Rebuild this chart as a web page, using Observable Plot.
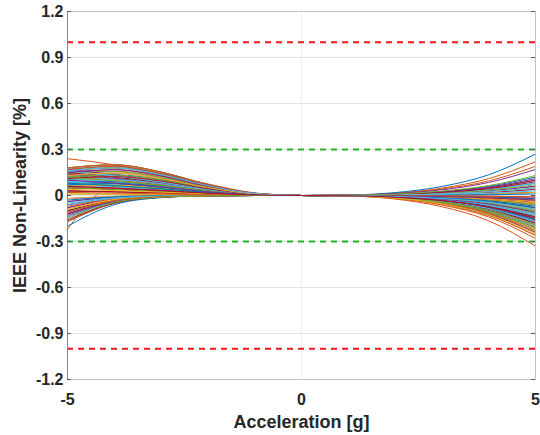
<!DOCTYPE html>
<html><head><meta charset="utf-8">
<script src="https://cdn.jsdelivr.net/npm/d3@7"></script>
<script src="https://cdn.jsdelivr.net/npm/@observablehq/plot@0.6"></script>
<style>
body{margin:0;background:#fff}
#chart svg{display:block}
#chart [aria-label="x-axis label"] text, #chart [aria-label="y-axis label"] text{font-size:18px}
</style></head><body><div id="chart"></div>
<script>
// Acceleration sample points [g]
const accel = [-5,-4,-3,-2,-1,0,1,2,3,4,5];
const yTicks = [-1.2,-0.9,-0.6,-0.3,0,0.3,0.6,0.9,1.2];
const xTicks = [-5,0,5];
const redLimits = [-1, 1];
const greenLimits = [-0.3, 0.3];
const palette = ["#0072BD","#D95319","#EDB120","#7E2F8E","#77AC30","#4DBEEE","#A2142F"];
// IEEE non-linearity [%] of each device, read at the sample points
const curves = [
[0.13,0.104,0.072,0.033,0.007,0,-0.001,-0.008,-0.026,-0.06,-0.12],
[0.16,0.18,0.136,0.064,0.013,0,-0.002,-0.014,-0.044,-0.1,-0.2],
[-0.06,-0.018,-0.004,-0.001,0,0,0,0.001,0.004,0.01,0.02],
[0.18,0.2,0.153,0.072,0.014,0,-0.002,-0.011,-0.035,-0.08,-0.16],
[0.07,0.056,0.039,0.018,0.004,0,-0.001,-0.004,-0.013,-0.03,-0.06],
[-0.1,-0.03,-0.007,-0.001,0,0,0,0.003,0.009,0.02,0.04],
[0.11,0.088,0.061,0.028,0.006,0,-0.001,-0.01,-0.031,-0.07,-0.14],
[0.12,0.134,0.102,0.048,0.01,0,-0.001,-0.007,-0.022,-0.05,-0.1],
[0.03,0.024,0.017,0.008,0.002,0,0,-0.001,-0.004,-0.01,-0.02],
[0.14,0.157,0.119,0.056,0.011,0,-0.002,-0.017,-0.053,-0.12,-0.24],
[-0.04,-0.012,-0.003,0,0,0,0.001,0.004,0.013,0.03,0.06],
[0.09,0.072,0.05,0.023,0.005,0,-0.001,-0.006,-0.018,-0.04,-0.08],
[0.1,0.112,0.085,0.04,0.008,0,-0.002,-0.013,-0.04,-0.09,-0.18],
[0.05,0.04,0.028,0.013,0.003,0,0,-0.003,-0.009,-0.02,-0.04],
[-0.12,-0.036,-0.008,-0.001,0,0,0.001,0.006,0.018,0.04,0.08],
[0.16,0.18,0.136,0.064,0.013,0,-0.001,-0.008,-0.026,-0.06,-0.12],
[0.15,0.12,0.083,0.038,0.008,0,-0.002,-0.015,-0.048,-0.11,-0.22],
[-0.08,-0.024,-0.006,-0.001,0,0,0,-0.001,-0.002,-0.005,-0.01],
[0.01,0.008,0.006,0.003,0.001,0,-0.001,-0.007,-0.022,-0.05,-0.1],
[0.08,0.09,0.068,0.032,0.006,0,-0.001,-0.004,-0.013,-0.03,-0.06],
[0.13,0.104,0.072,0.033,0.007,0,-0.002,-0.011,-0.035,-0.08,-0.16],
[-0.14,-0.042,-0.01,-0.001,0,0,0.001,0.007,0.022,0.05,0.1],
[0.14,0.157,0.119,0.056,0.011,0,-0.002,-0.014,-0.044,-0.1,-0.2],
[0.07,0.056,0.039,0.018,0.004,0,-0.001,-0.008,-0.026,-0.06,-0.12],
[-0.02,-0.006,-0.001,0,0,0,0,-0.003,-0.009,-0.02,-0.04],
[0.18,0.2,0.153,0.072,0.014,0,-0.003,-0.018,-0.057,-0.13,-0.26],
[0.11,0.088,0.061,0.028,0.006,0,-0.001,-0.006,-0.018,-0.04,-0.08],
[0.05,0.04,0.028,0.013,0.003,0,0,-0.001,-0.004,-0.01,-0.02],
[-0.17,-0.051,-0.012,-0.002,0,0,0.001,0.008,0.026,0.06,0.12],
[-0.22,0.06,0.07,0.035,0.007,0,-0.003,-0.018,-0.057,-0.13,-0.26],
[0.09,0.072,0.05,0.023,0.005,0,-0.002,-0.013,-0.04,-0.09,-0.18],
[-0.06,-0.018,-0.004,-0.001,0,0,-0.001,-0.004,-0.013,-0.03,-0.06],
[0.06,0.067,0.051,0.024,0.005,0,-0.001,-0.007,-0.022,-0.05,-0.1],
[0.15,0.12,0.083,0.038,0.008,0,-0.002,-0.011,-0.035,-0.08,-0.16],
[0.03,0.024,0.017,0.008,0.002,0,0,0.001,0.004,0.01,0.02],
[-0.1,-0.03,-0.007,-0.001,0,0,0,-0.001,-0.004,-0.01,-0.02],
[0.18,0.2,0.153,0.072,0.014,0,-0.003,-0.02,-0.062,-0.14,-0.28],
[0.13,0.104,0.072,0.033,0.007,0,-0.002,-0.014,-0.044,-0.1,-0.2],
[-0.04,-0.012,-0.003,0,0,0,-0.001,-0.006,-0.018,-0.04,-0.08],
[0.16,0.18,0.136,0.064,0.013,0,-0.001,-0.01,-0.031,-0.07,-0.14],
[0.07,0.056,0.039,0.018,0.004,0,-0.001,-0.007,-0.022,-0.05,-0.1],
[-0.12,-0.036,-0.008,-0.001,0,0,0,0.003,0.009,0.02,0.04],
[0.08,0.09,0.068,0.032,0.006,0,-0.002,-0.011,-0.035,-0.08,-0.16],
[-0.14,-0.042,-0.01,-0.001,0,0,0.002,0.013,0.042,0.095,0.19],
[0.01,0.008,0.006,0.003,0.001,0,-0.001,-0.004,-0.013,-0.03,-0.06],
[-0.08,-0.024,-0.006,-0.001,0,0,0.001,0.004,0.013,0.03,0.06],
[0.14,0.157,0.119,0.056,0.011,0,-0.002,-0.015,-0.048,-0.11,-0.22],
[0.09,0.072,0.05,0.023,0.005,0,-0.001,-0.008,-0.026,-0.06,-0.12],
[-0.1,-0.03,-0.007,-0.001,0,0,0.001,0.007,0.022,0.05,0.1],
[0.12,0.134,0.102,0.048,0.01,0,-0.002,-0.013,-0.04,-0.09,-0.18],
[-0.17,-0.051,-0.012,-0.002,0,0,0.002,0.015,0.048,0.11,0.22],
[-0.02,-0.006,-0.001,0,0,0,0,0.001,0.004,0.01,0.02],
[0.17,0.136,0.094,0.043,0.009,0,-0.002,-0.017,-0.053,-0.12,-0.24],
[0.1,0.112,0.085,0.04,0.008,0,-0.001,-0.004,-0.013,-0.03,-0.06],
[-0.14,-0.042,-0.01,-0.001,0,0,0.001,0.006,0.018,0.04,0.08],
[0.03,0.024,0.017,0.008,0.002,0,-0.001,-0.01,-0.031,-0.07,-0.14],
[-0.2,-0.06,-0.014,-0.002,0,0,0.003,0.019,0.059,0.135,0.27],
[0.24,0.2,0.14,0.075,0.017,0,-0.003,-0.023,-0.073,-0.165,-0.33],
[0.06,0.067,0.051,0.024,0.005,0,0,-0.003,-0.009,-0.02,-0.04],
[-0.12,-0.036,-0.008,-0.001,0,0,0.002,0.012,0.037,0.085,0.17],
[0.05,0.04,0.028,0.013,0.003,0,-0.001,-0.007,-0.022,-0.05,-0.1],
[0.1,0.112,0.085,0.04,0.008,0,-0.002,-0.014,-0.044,-0.1,-0.2],
[0.15,0.12,0.083,0.038,0.008,0,-0.002,-0.013,-0.04,-0.09,-0.18],
[0.17,0.19,0.145,0.068,0.014,0,-0.002,-0.011,-0.033,-0.075,-0.15],
[0.12,0.096,0.066,0.03,0.006,0,-0.001,-0.006,-0.02,-0.045,-0.09],
[-0.09,-0.027,-0.006,-0.001,0,0,0.001,0.004,0.011,0.025,0.05],
[0.13,0.146,0.11,0.052,0.01,0,-0.002,-0.012,-0.037,-0.085,-0.17],
[0.08,0.064,0.044,0.02,0.004,0,-0.001,-0.008,-0.024,-0.055,-0.11],
[-0.05,-0.015,-0.004,0,0,0,0,0.002,0.007,0.015,0.03],
[0.15,0.168,0.128,0.06,0.012,0,-0.002,-0.013,-0.042,-0.095,-0.19],
[0.1,0.08,0.055,0.025,0.005,0,-0.001,-0.009,-0.029,-0.065,-0.13],
[-0.07,-0.021,-0.005,-0.001,0,0,0,-0.002,-0.007,-0.015,-0.03],
[0.11,0.123,0.094,0.044,0.009,0,-0.001,-0.005,-0.015,-0.035,-0.07],
[0.14,0.112,0.077,0.035,0.007,0,-0.002,-0.015,-0.046,-0.105,-0.21],
[-0.11,-0.033,-0.008,-0.001,0,0,0.001,0.005,0.015,0.035,0.07],
[0.09,0.101,0.077,0.036,0.007,0,-0.001,-0.009,-0.029,-0.065,-0.13],
[0.06,0.048,0.033,0.015,0.003,0,-0.001,-0.004,-0.011,-0.025,-0.05],
[-0.03,-0.009,-0.002,0,0,0,0,0.001,0.002,0.005,0.01],
[0.17,0.19,0.145,0.068,0.014,0,-0.002,-0.016,-0.051,-0.115,-0.23],
[0.04,0.032,0.022,0.01,0.002,0,-0.001,-0.006,-0.02,-0.045,-0.09],
[-0.13,-0.039,-0.009,-0.001,0,0,0.001,0.008,0.024,0.055,0.11],
[0.12,0.134,0.102,0.048,0.01,0,-0.002,-0.015,-0.046,-0.105,-0.21],
[0.16,0.128,0.088,0.04,0.008,0,-0.002,-0.012,-0.037,-0.085,-0.17],
[-0.16,-0.048,-0.011,-0.002,0,0,0.001,0.006,0.02,0.045,0.09],
[0.07,0.078,0.06,0.028,0.006,0,-0.001,-0.006,-0.018,-0.04,-0.08],
[0.02,0.016,0.011,0.005,0.001,0,0,-0.002,-0.007,-0.015,-0.03],
[-0.09,-0.027,-0.006,-0.001,0,0,-0.001,-0.004,-0.011,-0.025,-0.05],
[0.15,0.168,0.128,0.06,0.012,0,-0.001,-0.008,-0.024,-0.055,-0.11],
[0.12,0.096,0.066,0.03,0.006,0,-0.002,-0.013,-0.042,-0.095,-0.19],
[-0.06,-0.018,-0.004,-0.001,0,0,0.001,0.004,0.011,0.025,0.05],
[0.11,0.123,0.094,0.044,0.009,0,-0.002,-0.011,-0.033,-0.075,-0.15],
[0.08,0.064,0.044,0.02,0.004,0,-0.001,-0.005,-0.015,-0.035,-0.07],
[-0.11,-0.033,-0.008,-0.001,0,0,0,0,-0.002,-0.005,-0.01],
[0.13,0.146,0.11,0.052,0.01,0,-0.003,-0.018,-0.055,-0.125,-0.25],
[0.1,0.08,0.055,0.025,0.005,0,0,-0.002,-0.007,-0.015,-0.03],
[-0.15,-0.045,-0.011,-0.002,0,0,0.001,0.009,0.029,0.065,0.13],
[0.16,0.18,0.136,0.064,0.013,0,-0.001,-0.006,-0.02,-0.045,-0.09],
[0.06,0.048,0.033,0.015,0.003,0,-0.002,-0.011,-0.033,-0.075,-0.15]
];

const rows = curves.flatMap((vals, i) => vals.map((v, j) => ({id: i, c: i % palette.length, x: accel[j], y: v})));
const fmt = d => d === 0 ? "0" : d.toFixed(1);
const fmtX = d => String(d);

const chart = Plot.plot({
  width: 540, height: 435,
  marginLeft: 67, marginRight: 5, marginTop: 11, marginBottom: 56,
  style: {fontFamily: "'Liberation Sans', Arial, Helvetica, sans-serif", fontSize: "16px", fontWeight: "bold", color: "#262626", background: "#fff"},
  x: {domain: [-5, 5]},
  y: {domain: [-1.2, 1.2]},
  color: {type: "ordinal", domain: d3.range(palette.length), range: palette},
  marks: [
    Plot.gridY(yTicks, {stroke: "#e3e3e3", strokeOpacity: 1}),
    Plot.gridX([0], {stroke: "#efefef", strokeOpacity: 1}),
    Plot.line(rows, {x: "x", y: "y", z: "id", stroke: "c", curve: "monotone-x", strokeWidth: 1}),
    Plot.ruleY(redLimits, {stroke: "#f01818", strokeWidth: 2, strokeDasharray: "6,5"}),
    Plot.ruleY(greenLimits, {stroke: "#22b422", strokeWidth: 2, strokeDasharray: "6,5"}),
    Plot.frame({stroke: "#c4c4c4"}),
    Plot.ruleX([-5], {stroke: "#858585"}),
    Plot.tickY(yTicks, {y: d => d, insetRight: 464, stroke: "#5a5a5a"}),
    Plot.tickY(yTicks, {y: d => d, insetLeft: 464, stroke: "#5a5a5a"}),
    Plot.axisY(yTicks, {tickSize: 0, tickPadding: 4, tickFormat: fmt, label: "IEEE Non-Linearity [%]", labelAnchor: "center", labelOffset: 54, labelArrow: "none"}),
    Plot.axisX(xTicks, {tickSize: 0, tickPadding: 14, tickFormat: fmtX, label: "Acceleration [g]", labelAnchor: "center", labelOffset: 48, labelArrow: "none"})
  ]
});
document.getElementById("chart").appendChild(chart);
</script>
</body></html>
